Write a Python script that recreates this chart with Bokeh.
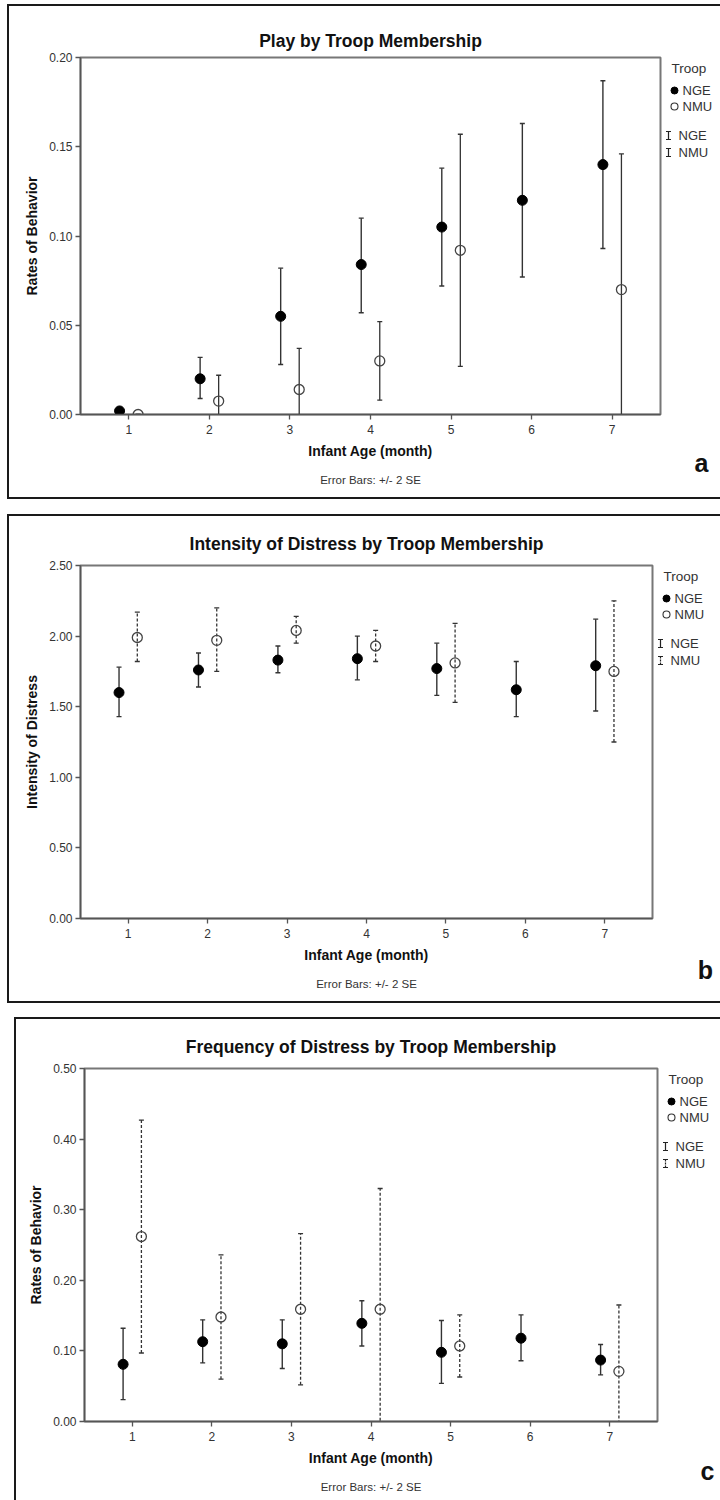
from bokeh.plotting import figure
from bokeh.models import (Range1d, FixedTicker, NumeralTickFormatter, ColumnDataSource,
                          LinearAxis, InlineStyleSheet)
from bokeh.core.properties import value
from bokeh.transform import dodge
from bokeh.layouts import column, row
from bokeh.embed import file_html
from bokeh.resources import INLINE

# ---------------- data ----------------
months_nge = [1, 2, 3, 4, 5, 6, 7]
months_nmu = [1, 2, 3, 4, 5, 7]

# Panel a: Play by Troop Membership (rates of behavior, +/- 2 SE)
play_nge_mean = [0.002, 0.020, 0.055, 0.084, 0.105, 0.120, 0.140]
play_nge_lo = [0.001, 0.009, 0.028, 0.057, 0.072, 0.077, 0.093]
play_nge_hi = [0.003, 0.032, 0.082, 0.110, 0.138, 0.163, 0.187]
play_nmu_mean = [0.000, 0.0075, 0.014, 0.030, 0.092, 0.070]
play_nmu_lo = [0.000, -0.007, -0.009, 0.008, 0.027, -0.006]
play_nmu_hi = [0.000, 0.022, 0.037, 0.052, 0.157, 0.146]

# Panel b: Intensity of Distress by Troop Membership
int_nge_mean = [1.60, 1.76, 1.83, 1.84, 1.77, 1.62, 1.79]
int_nge_lo = [1.43, 1.64, 1.74, 1.69, 1.58, 1.43, 1.47]
int_nge_hi = [1.78, 1.88, 1.93, 2.00, 1.95, 1.82, 2.12]
int_nmu_mean = [1.99, 1.97, 2.04, 1.93, 1.81, 1.75]
int_nmu_lo = [1.82, 1.75, 1.95, 1.82, 1.53, 1.25]
int_nmu_hi = [2.17, 2.20, 2.14, 2.04, 2.09, 2.25]

# Panel c: Frequency of Distress by Troop Membership
freq_nge_mean = [0.081, 0.113, 0.110, 0.139, 0.098, 0.118, 0.087]
freq_nge_lo = [0.031, 0.083, 0.075, 0.107, 0.054, 0.086, 0.066]
freq_nge_hi = [0.132, 0.144, 0.144, 0.171, 0.143, 0.151, 0.109]
freq_nmu_mean = [0.262, 0.148, 0.159, 0.159, 0.107, 0.071]
freq_nmu_lo = [0.097, 0.060, 0.052, -0.013, 0.063, -0.024]
freq_nmu_hi = [0.427, 0.236, 0.266, 0.330, 0.151, 0.165]

x_ticks = [1, 2, 3, 4, 5, 6, 7]
play_ticks = [0.0, 0.05, 0.10, 0.15, 0.20]
int_ticks = [0.0, 0.5, 1.0, 1.5, 2.0, 2.5]
freq_ticks = [0.0, 0.1, 0.2, 0.3, 0.4, 0.5]

legend_title = "Troop"
legend_groups = ["NGE", "NMU"]
footnote = "Error Bars: +/- 2 SE"

FONT = "Liberation Sans"
BAR = "#333333"
EDGE = "2px solid #1a1a1a"


def frame_css(left, top, height, left_edge, bottom_edge):
    """Decorative panel frame drawn as a CSS overlay (no effect on the layout)."""
    le = f"border-left: {EDGE};" if left_edge else ""
    be = f"border-bottom: {EDGE};" if bottom_edge else ""
    return InlineStyleSheet(css=(
        ":host { position: relative; }\n"
        f":host::after {{ content: ''; position: absolute; left: {left}px; top: {top}px; right: 0; "
        f"height: {height}px; box-sizing: border-box; border-top: {EDGE}; {le} {be} "
        "pointer-events: none; z-index: 10; }\n"))


def panel(title, ylabel, ymax, yticks, nge, nmu, H, fl, fr, ft, fb,
          letter, letter_x, letter_standoff, nmu_dashed, title_standoff, border):
    bl, bt, bh, bottom_edge = border
    Wm = fr + 2
    p = figure(width=Wm, height=H, x_range=Range1d(0.4, 7.6), y_range=Range1d(0, ymax),
               output_backend="svg", toolbar_location=None,
               min_border_left=fl, min_border_right=2,
               min_border_top=ft, min_border_bottom=H - fb,
               background_fill_color="white", border_fill_color="white",
               stylesheets=[frame_css(bl, bt, bh, True, bottom_edge)])
    p.title.text = title
    p.title.align = "center"
    p.title.text_font = FONT
    p.title.text_font_size = "17.5px"
    p.title.text_font_style = "bold"
    p.title.text_color = "#111111"
    p.title.standoff = title_standoff

    p.grid.visible = False
    p.outline_line_color = "#777777"
    p.outline_line_width = 2

    for ax in (p.xaxis[0], p.yaxis[0]):
        ax.axis_line_color = "#555555"
        ax.axis_line_width = 1.5
        ax.major_tick_line_color = "#555555"
        ax.major_tick_line_width = 1.3
        ax.major_tick_out = 5
        ax.major_tick_in = 0
        ax.minor_tick_out = 0
        ax.minor_tick_in = 0
        ax.major_label_text_font = FONT
        ax.major_label_text_font_size = "12px"
        ax.major_label_text_color = "#333333"
        ax.axis_label_text_font = FONT
        ax.axis_label_text_font_size = "14px"
        ax.axis_label_text_font_style = "bold"
        ax.axis_label_text_color = "#111111"

    p.xaxis.ticker = FixedTicker(ticks=x_ticks)
    p.xaxis.axis_label = "Infant Age (month)"
    p.xaxis.major_label_standoff = 5
    p.xaxis.axis_label_standoff = 6
    p.yaxis.ticker = FixedTicker(ticks=yticks)
    p.yaxis.formatter = NumeralTickFormatter(format="0.00")
    p.yaxis.axis_label = ylabel
    p.yaxis.major_label_standoff = 3
    p.yaxis.axis_label_standoff = 6

    # footnote as the label of a bare extra axis under the x axis
    note = LinearAxis(ticker=FixedTicker(ticks=[]), axis_label=footnote,
                      axis_line_color=None, major_tick_line_color=None, minor_tick_line_color=None,
                      major_tick_out=0, major_tick_in=0, minor_tick_out=0, minor_tick_in=0,
                      major_label_standoff=0, axis_label_standoff=12,
                      axis_label_text_font=FONT, axis_label_text_font_size="11.5px",
                      axis_label_text_font_style="normal", axis_label_text_color="#333333")
    p.add_layout(note, "below")

    src_nge = ColumnDataSource(dict(month=nge[0], mean=nge[1], lo=nge[2], hi=nge[3]))
    src_nmu = ColumnDataSource(dict(month=nmu[0], mean=nmu[1], lo=nmu[2], hi=nmu[3]))
    xg = dodge("month", -0.115, range=p.x_range)
    xm = dodge("month", 0.115, range=p.x_range)

    p.segment(x0=xg, y0="lo", x1=xg, y1="hi", source=src_nge, line_color=BAR, line_width=1.4)
    p.scatter(x=xg, y="hi", source=src_nge, marker="dash", size=5, line_color=BAR, line_width=1.4)
    p.scatter(x=xg, y="lo", source=src_nge, marker="dash", size=5, line_color=BAR, line_width=1.4)

    dash = "3 2" if nmu_dashed else "solid"
    p.segment(x0=xm, y0="lo", x1=xm, y1="hi", source=src_nmu, line_color=BAR,
              line_width=1.3, line_dash=dash)
    p.scatter(x=xm, y="hi", source=src_nmu, marker="dash", size=5, line_color=BAR, line_width=1.3)
    p.scatter(x=xm, y="lo", source=src_nmu, marker="dash", size=5, line_color=BAR, line_width=1.3)

    p.scatter(x=xg, y="mean", source=src_nge, marker="circle", size=10,
              fill_color="black", line_color="black")
    p.scatter(x=xm, y="mean", source=src_nmu, marker="circle", size=10,
              fill_alpha=0, line_color="#444444", line_width=1.3)

    # ---- key strip to the right of the plot: pixel coordinates, y downwards,
    #      its frame spans the same rows as the plot frame ----
    Wl = 720 - Wm
    k = figure(width=Wl, height=H, x_range=Range1d(0, Wl), y_range=Range1d(fb, ft),
               output_backend="svg", toolbar_location=None, y_axis_type=None,
               min_border_left=0, min_border_right=0,
               min_border_top=ft, min_border_bottom=H - fb, outline_line_color=None,
               background_fill_color="white", border_fill_color="white",
               stylesheets=[frame_css(0, bt, bh, False, bottom_edge)])
    k.grid.visible = False
    kx = k.xaxis[0]
    kx.ticker = FixedTicker(ticks=[letter_x])
    kx.major_label_overrides = {letter_x: letter}
    kx.axis_line_color = None
    kx.major_tick_line_color = None
    kx.minor_tick_line_color = None
    kx.major_tick_out = 0
    kx.major_tick_in = 0
    kx.minor_tick_out = 0
    kx.minor_tick_in = 0
    kx.major_label_standoff = letter_standoff
    kx.major_label_text_font = FONT
    kx.major_label_text_font_size = "25px"
    kx.major_label_text_font_style = "bold"
    kx.major_label_text_color = "#111111"

    k.text(x=[9], y=[ft + 11], text=[legend_title], text_font=value(FONT),
           text_font_size=value("13.5px"), text_baseline="middle", text_align="left",
           text_color="#333333")
    k.scatter(x=[12], y=[ft + 33], marker="circle", size=7, fill_color="black", line_color="black")
    k.scatter(x=[12], y=[ft + 49], marker="circle", size=7, fill_alpha=0,
              line_color="#333333", line_width=1.1)
    k.text(x=[20, 20, 16, 16], y=[ft + 33, ft + 49, ft + 78, ft + 95],
           text=legend_groups + legend_groups, text_font=value(FONT),
           text_font_size=value("13px"), text_baseline="middle", text_align="left",
           text_color="#333333")
    for yc, dashed in ((ft + 78, False), (ft + 95, nmu_dashed)):
        k.segment(x0=[6], y0=[yc - 4], x1=[6], y1=[yc + 4], line_color="#222222",
                  line_width=1.2, line_dash="2 1" if dashed else "solid")
        k.scatter(x=[6, 6], y=[yc - 4, yc + 4], marker="dash", size=5,
                  line_color="#222222", line_width=1.2)
    return row(p, k, spacing=0)


pa = panel("Play by Troop Membership", "Rates of Behavior", 0.2, play_ticks,
           (months_nge, play_nge_mean, play_nge_lo, play_nge_hi),
           (months_nmu, play_nmu_mean, play_nmu_lo, play_nmu_hi),
           507, 80, 660, 57, 414, "a", 39, 34, False, 14, (7, 4, 495, True))
pb = panel("Intensity of Distress by Troop Membership", "Intensity of Distress", 2.5, int_ticks,
           (months_nge, int_nge_mean, int_nge_lo, int_nge_hi),
           (months_nmu, int_nmu_mean, int_nmu_lo, int_nmu_hi),
           503, 80, 652, 58, 411, "b", 51, 37, True, 24, (7, 7, 489, True))
pc = panel("Frequency of Distress by Troop Membership", "Rates of Behavior", 0.5, freq_ticks,
           (months_nge, freq_nge_mean, freq_nge_lo, freq_nge_hi),
           (months_nmu, freq_nmu_mean, freq_nmu_lo, freq_nmu_hi),
           490, 84, 657, 58, 411, "c", 48, 35, True, 23, (14, 7, 483, False))

layout = column(pa, pb, pc, spacing=0)
open("out.html", "w").write(file_html(layout, INLINE))
